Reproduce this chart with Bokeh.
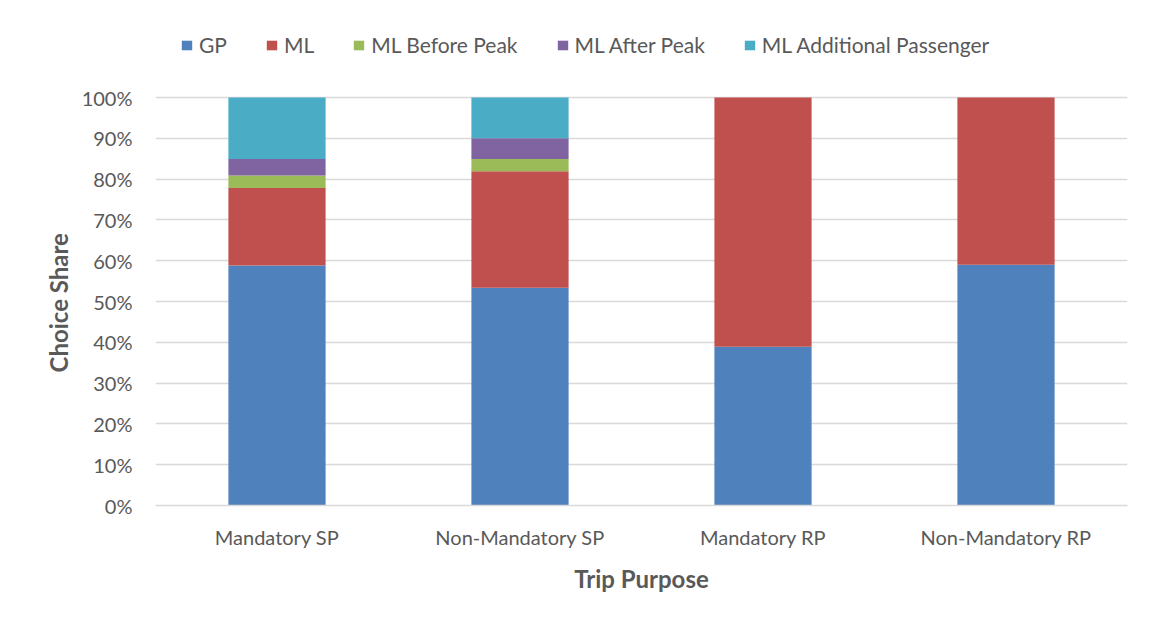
from bokeh.plotting import figure
from bokeh.models import FactorRange, Range1d, NumeralTickFormatter, Legend, LegendItem, FixedTicker, Title
from bokeh.embed import file_html
from bokeh.resources import INLINE

categories = ["Mandatory SP", "Non-Mandatory SP", "Mandatory RP", "Non-Mandatory RP"]
series_names = ["GP", "ML", "ML Before Peak", "ML After Peak", "ML Additional Passenger"]
gp = [0.588, 0.534, 0.389, 0.590]
ml = [0.190, 0.285, 0.611, 0.410]
ml_before = [0.031, 0.030, 0.0, 0.0]
ml_after = [0.040, 0.051, 0.0, 0.0]
ml_additional = [0.151, 0.100, 0.0, 0.0]
y_ticks = [i / 10 for i in range(11)]

colors = ["#4f81bd", "#c0504d", "#9bbb59", "#8064a2", "#4bacc6"]
keys = ["gp", "ml", "ml_before", "ml_after", "ml_additional"]
data = dict(cat=categories, gp=gp, ml=ml, ml_before=ml_before, ml_after=ml_after, ml_additional=ml_additional)

FONT = "Lato"
TXT = "#595959"

# frame extends above 100% to hold the legend (no ticks/grid up there)
p = figure(x_range=FactorRange(*categories), y_range=Range1d(0, 1.19608),
           width=1147, height=612, output_backend="svg", toolbar_location=None,
           min_border_left=155, min_border_right=20, min_border_top=17, min_border_bottom=107)
p.outline_line_color = None

renderers = p.vbar_stack(keys, x="cat", width=0.4, color=colors, line_color=None, source=data)

p.yaxis.ticker = FixedTicker(ticks=y_ticks)
p.yaxis.formatter = NumeralTickFormatter(format="0%")
p.ygrid.grid_line_color = "#d9d9d9"
p.ygrid.grid_line_width = 1.3
p.xgrid.grid_line_color = None

for ax in (p.xaxis[0], p.yaxis[0]):
    ax.major_tick_line_color = None
    ax.minor_tick_line_color = None
    ax.major_label_text_font = FONT
    ax.major_label_text_font_size = "20px"
    ax.major_label_text_color = TXT
    ax.axis_label_text_font = FONT
    ax.axis_label_text_font_size = "24px"
    ax.axis_label_text_font_style = "bold"
    ax.axis_label_text_color = TXT

p.yaxis.axis_line_color = None
p.xaxis.axis_line_color = "#d9d9d9"
p.xaxis.axis_line_width = 1.3
p.xaxis.axis_label = "Trip Purpose"
p.xaxis.major_label_standoff = 13
p.yaxis.major_label_standoff = 17
p.xaxis.axis_label_standoff = 12

# y-axis title as a left Title so it is centred on the 0-100% part of the frame
ytitle = Title(text="Choice Share", align="left", offset=133, standoff=12,
               text_font=FONT, text_font_size="24px", text_font_style="bold",
               text_color=TXT)
p.add_layout(ytitle, "left")

items = [LegendItem(label=n, renderers=[r]) for n, r in zip(series_names, renderers)]
legend = Legend(items=items, orientation="horizontal", location=(25, 448),
                label_text_font=FONT, label_text_font_size="21px", label_text_color=TXT,
                glyph_width=13, glyph_height=12, label_standoff=6, spacing=38,
                padding=0, margin=0, border_line_color=None, background_fill_alpha=0)
p.add_layout(legend, "center")

open("out.html", "w").write(file_html(p, INLINE))
